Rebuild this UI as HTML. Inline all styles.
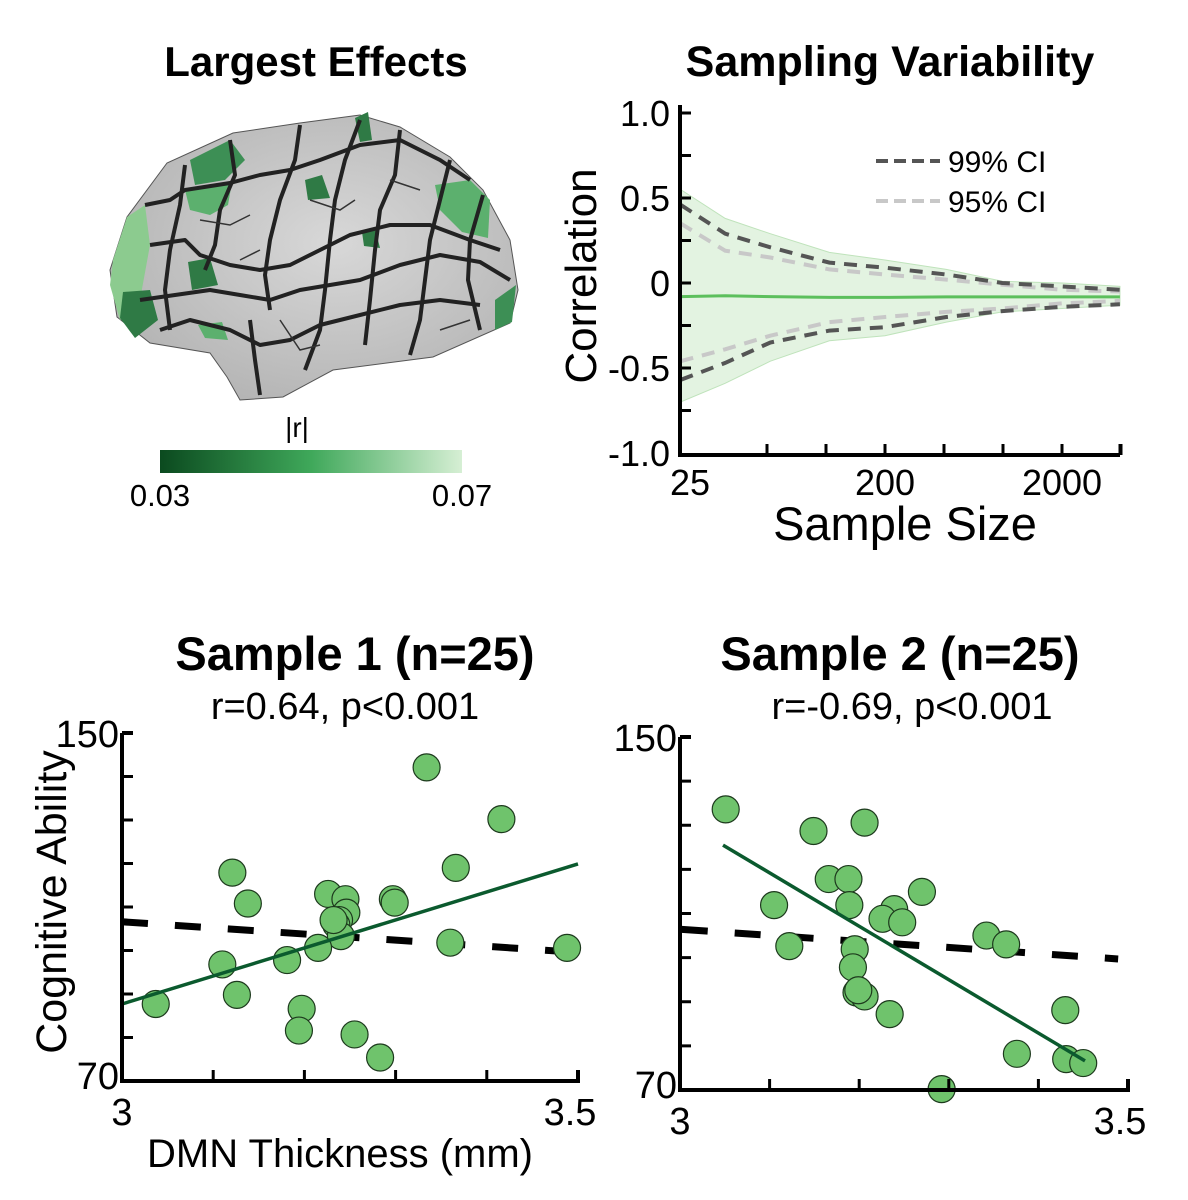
<!DOCTYPE html>
<html><head><meta charset="utf-8">
<style>
html,body{margin:0;padding:0;background:#fff;}
svg{display:block;font-family:"Liberation Sans",Arial,sans-serif;}
</style></head>
<body>
<svg id="fig" width="1188" height="1200" viewBox="0 0 1188 1200" xmlns="http://www.w3.org/2000/svg">
<defs>
<linearGradient id="cbar" x1="0" x2="1" y1="0" y2="0">
<stop offset="0" stop-color="#0b4a1f"/><stop offset="0.5" stop-color="#3fa85a"/><stop offset="1" stop-color="#d6efd4"/>
</linearGradient>
<radialGradient id="brainShade" cx="0.55" cy="0.45" r="0.6">
<stop offset="0" stop-color="#d8d8d8"/><stop offset="1" stop-color="#b4b4b4"/>
</radialGradient>
</defs>

<text x="316" y="76" font-size="42" font-weight="bold" text-anchor="middle">Largest Effects</text>
<g>
<path d="M110,270 L127,217 L167,163 L233,133 L300,123 L360,115 L400,127 L450,157 L483,190 L510,240 L518,290 L510,323 L433,357 L333,370 L283,397 L240,400 L227,377 L210,353 L150,343 L117,317 Z" fill="url(#brainShade)" stroke="#555" stroke-width="1"/>
<path d="M113,260 L127,217 L145,205 L150,245 L140,300 L120,320 L110,285 Z" fill="#8ccb8f"/>
<path d="M123,292 L150,290 L158,320 L135,338 L120,318 Z" fill="#2f7a45"/>
<path d="M190,160 L230,140 L245,160 L225,180 L195,185 Z" fill="#3d8f55"/>
<path d="M185,190 L232,182 L228,205 L210,215 L190,210 Z" fill="#5cb06e"/>
<path d="M305,180 L322,175 L330,198 L308,200 Z" fill="#2f7a45"/>
<path d="M435,185 L470,180 L490,200 L488,238 L462,232 L440,210 Z" fill="#5cb06e"/>
<path d="M188,262 L210,258 L218,285 L192,290 Z" fill="#2f7a45"/>
<path d="M362,232 L375,228 L380,248 L364,246 Z" fill="#2f7a45"/>
<path d="M355,118 L368,112 L372,140 L360,142 Z" fill="#2f7a45"/>
<path d="M198,325 L222,322 L228,340 L205,338 Z" fill="#5cb06e"/>
<path d="M495,300 L516,285 L512,322 L495,330 Z" fill="#3d8f55"/>
<g fill="none" stroke="#222" stroke-width="4" stroke-linejoin="round">
<path d="M145,205 L170,200 L185,190 L230,183 L260,175 L290,170 L320,160 L360,145 L400,140 L440,160 L470,180"/>
<path d="M150,245 L185,240 L200,255 L230,265 L260,270 L290,265 L320,250 L350,235 L390,225 L430,225 L470,240 L500,250"/>
<path d="M140,300 L175,295 L210,290 L240,295 L270,300 L300,290 L330,285 L360,280 L400,265 L440,255 L480,262 L510,280"/>
<path d="M160,330 L190,320 L230,330 L260,345 L290,340 L320,325 L360,315 L400,305 L440,300 L480,305"/>
<path d="M230,140 L235,175 L220,210 L215,245 L205,270"/>
<path d="M300,125 L295,160 L280,200 L270,240 L265,275 L270,310"/>
<path d="M360,120 L345,160 L335,200 L330,240 L325,290 L320,330 L305,370"/>
<path d="M400,130 L395,175 L380,210 L375,250 L370,300 L365,345"/>
<path d="M450,160 L440,200 L430,240 L425,280 L420,320 L410,355"/>
<path d="M483,195 L470,240 L468,280 L480,330"/>
<path d="M250,320 L255,360 L260,395"/>
<path d="M185,165 L180,205 L170,250 L165,290 L170,330"/>
</g>
<g fill="none" stroke="#333" stroke-width="1.5">
<path d="M200,220 L230,225 L250,215"/><path d="M310,200 L340,210 L355,200"/>
<path d="M390,180 L420,190"/><path d="M280,320 L300,350 L320,345"/>
<path d="M440,330 L470,320"/><path d="M240,260 L260,250"/>
</g>
</g>
<g>
<text x="297" y="437" font-size="28" text-anchor="middle">|r|</text>
<rect x="160" y="450" width="302" height="23" fill="url(#cbar)"/>
<text x="160" y="506" font-size="31" text-anchor="middle">0.03</text>
<text x="462" y="506" font-size="31" text-anchor="middle">0.07</text>
</g>

<text x="890" y="76" font-size="43" font-weight="bold" text-anchor="middle">Sampling Variability</text>
<g id="pB"></g>

<text x="355" y="670" font-size="47" font-weight="bold" text-anchor="middle">Sample 1 (n=25)</text>
<text x="345" y="719" font-size="38" text-anchor="middle">r=0.64, p&lt;0.001</text>
<g id="pC"></g>
<text transform="translate(66,902) rotate(-90)" font-size="43" text-anchor="middle">Cognitive Ability</text>
<text x="340" y="1167" font-size="40" text-anchor="middle">DMN Thickness (mm)</text>

<text x="900" y="670" font-size="47" font-weight="bold" text-anchor="middle">Sample 2 (n=25)</text>
<text x="912" y="719" font-size="38" text-anchor="middle">r=-0.69, p&lt;0.001</text>
<g id="pD"></g>
</svg>

<script>
var sampleSizes = [14, 25, 45, 97, 200, 444, 920, 2000, 4250];
var meanCorr   = [-0.08, -0.075, -0.08, -0.085, -0.085, -0.082, -0.082, -0.082, -0.082];
var bandUpper  = [0.55, 0.38, 0.29, 0.18, 0.135, 0.08, 0.01, 0.0, -0.02];
var bandLower  = [-0.70, -0.59, -0.46, -0.34, -0.31, -0.23, -0.17, -0.15, -0.13];
var ci99Upper  = [0.46, 0.29, 0.21, 0.12, 0.09, 0.05, 0.0, -0.02, -0.04];
var ci99Lower  = [-0.57, -0.47, -0.35, -0.28, -0.26, -0.20, -0.165, -0.14, -0.125];
var ci95Upper  = [0.35, 0.19, 0.15, 0.08, 0.05, 0.02, -0.01, -0.04, -0.05];
var ci95Lower  = [-0.46, -0.39, -0.31, -0.23, -0.20, -0.17, -0.15, -0.12, -0.105];
var yTickVals  = [1.0, 0.5, 0, -0.5, -1.0];
var yTickLabels= ["1.0", "0.5", "0", "-0.5", "-1.0"];
var xTickVals  = [25, 200, 2000];
var xTickLabels= ["25", "200", "2000"];

var s1x = [3.334,3.416,3.366,3.121,3.138,3.226,3.245,3.297,3.299,3.246,3.238,3.235,3.240,3.360,3.488,3.215,3.110,3.181,3.126,3.037,3.197,3.194,3.255,3.283,3.232];
var s1y = [142.1,130.2,119.0,117.9,110.8,113.0,111.8,111.8,111.0,108.7,107.0,105.9,103.3,101.8,100.6,100.6,96.8,97.8,89.8,87.7,86.6,81.6,80.7,75.4,107.0];
var s1FitX = [3.0, 3.5];
var s1FitY = [87.7, 119.9];
var s1RefX = [3.0, 3.49];
var s1RefY = [106.6, 99.7];

var s2x = [3.051,3.149,3.206,3.166,3.188,3.270,3.105,3.189,3.239,3.226,3.248,3.342,3.364,3.122,3.195,3.193,3.197,3.206,3.234,3.430,3.376,3.431,3.450,3.292,3.199];
var s2y = [133.6,128.7,130.6,117.8,117.8,114.9,111.9,111.9,111.0,108.8,108.0,105.0,103.0,102.6,101.9,97.8,92.1,91.2,87.2,88.1,78.2,77.0,76.1,70.2,92.6];
var s2FitX = [3.048, 3.452];
var s2FitY = [125.5, 76.6];
var s2RefX = [3.002, 3.489];
var s2RefY = [106.4, 99.7];

var scX = [3, 3.5], scY = [70, 150];
var scTickX = [3, 3.5], scTickXLabels = ["3", "3.5"];
var scTickY = [150, 70], scTickYLabels = ["150", "70"];

var NS = "http://www.w3.org/2000/svg";
function mk(parent, tag, attrs) {
  var e = document.createElementNS(NS, tag);
  for (var k in attrs) e.setAttribute(k, attrs[k]);
  parent.appendChild(e);
  return e;
}

(function(){
  var g = document.getElementById('pB');
  var X0 = 680, X1 = 1120, Yt = 105, Yb = 455;
  function x(n){ return 885 + (Math.log10(n) - Math.log10(200)) * 177; }
  function y(v){ return 283 - v * 170; }
  function pts(ys){ return sampleSizes.map(function(n,i){ return x(n).toFixed(1)+','+y(ys[i]).toFixed(1); }).join(' '); }
  var bandPts = sampleSizes.map(function(n,i){ return x(n)+','+y(bandUpper[i]); })
    .concat(sampleSizes.slice().reverse().map(function(n,j){ var i = sampleSizes.length-1-j; return x(n)+','+y(bandLower[i]); })).join(' ');
  var band = mk(g,'polygon',{points:bandPts, fill:'#e3f3e1', stroke:'#bfe3bb', 'stroke-width':1});
  
  
  var l;
  l = mk(g,'polyline',{points:pts(ci95Upper), fill:'none', stroke:'#c8c8c8', 'stroke-width':4, 'stroke-dasharray':'13 9'});
  
  
  l = mk(g,'polyline',{points:pts(ci95Lower), fill:'none', stroke:'#c8c8c8', 'stroke-width':4, 'stroke-dasharray':'13 9'});
  
  
  l = mk(g,'polyline',{points:pts(ci99Upper), fill:'none', stroke:'#555', 'stroke-width':4, 'stroke-dasharray':'13 9'});
  
  
  l = mk(g,'polyline',{points:pts(ci99Lower), fill:'none', stroke:'#555', 'stroke-width':4, 'stroke-dasharray':'13 9'});
  
  
  l = mk(g,'polyline',{points:pts(meanCorr), fill:'none', stroke:'#5cbf5c', 'stroke-width':3});
  
  
  var ax = mk(g,'path',{d:'M'+X0+','+Yt+' L'+X0+','+Yb+' L'+X1+','+Yb, fill:'none', stroke:'#000', 'stroke-width':4});
  
  
  for (var v=-0.75; v<=1.0; v+=0.25) {
    mk(g,'line',{x1:X0, x2:X0+11, y1:y(v), y2:y(v), stroke:'#000', 'stroke-width':3});
  }
  for (var k=-2; k<=4; k++) {
    var tx = x(200*Math.pow(10,k/3));
    mk(g,'line',{x1:tx, x2:tx, y1:Yb, y2:Yb-11, stroke:'#000', 'stroke-width':3});
  }
  mk(g,'line',{x1:X1, x2:X1, y1:Yb, y2:Yb-11, stroke:'#000', 'stroke-width':3});
  yTickVals.forEach(function(v,i){
    var t = mk(g,'text',{x:X0-10, y:y(v)+13, 'font-size':36, 'text-anchor':'end'});
    t.textContent = yTickLabels[i];
    
    
  });
  xTickVals.forEach(function(v,i){
    var px = i===0 ? X0+10 : x(v);
    var t = mk(g,'text',{x:px, y:Yb+40, 'font-size':36, 'text-anchor':'middle'});
    t.textContent = xTickLabels[i];
    
    
  });
  var yt = mk(g,'text',{transform:'translate(596,276) rotate(-90)', 'font-size':44, 'text-anchor':'middle'});
  yt.textContent = 'Correlation';
  
  
  var xt = mk(g,'text',{x:905, y:540, 'font-size':47, 'text-anchor':'middle'});
  xt.textContent = 'Sample Size';
  
  
  var lg = mk(g,'g',{});
  
  
  mk(lg,'line',{x1:876, x2:940, y1:161, y2:161, stroke:'#555', 'stroke-width':4, 'stroke-dasharray':'12 6'});
  var t1 = mk(lg,'text',{x:948, y:172, 'font-size':30}); t1.textContent='99% CI';
  
  
  mk(lg,'line',{x1:876, x2:940, y1:201, y2:201, stroke:'#c8c8c8', 'stroke-width':4, 'stroke-dasharray':'12 6'});
  var t2 = mk(lg,'text',{x:948, y:212, 'font-size':30}); t2.textContent='95% CI';
  
  
})();

function scatter(gid, L, R, T, B, xs, ys, fitX, fitY, refX, refY) {
  var g = document.getElementById(gid);
  function x(v){ return L + (v - scX[0]) / (scX[1]-scX[0]) * (R-L); }
  function y(v){ return B - (v - scY[0]) / (scY[1]-scY[0]) * (B-T); }
  var ref = mk(g,'line',{x1:x(refX[0]), y1:y(refY[0]), x2:x(refX[1]), y2:y(refY[1]), stroke:'#000', 'stroke-width':7, 'stroke-dasharray':'26 27'});
  
  
  xs.forEach(function(v,i){
    var c = mk(g,'circle',{cx:x(v), cy:y(ys[i]), r:13.5, fill:'#6fc36c', stroke:'#1d3a1d', 'stroke-width':1.2});
    
    
  });
  var fit = mk(g,'line',{x1:x(fitX[0]), y1:y(fitY[0]), x2:x(fitX[1]), y2:y(fitY[1]), stroke:'#0b5a2e', 'stroke-width':3.5});
  
  
  var ax = mk(g,'path',{d:'M'+L+','+T+' L'+L+','+B+' L'+R+','+B+' L'+R+','+(B-11), fill:'none', stroke:'#000', 'stroke-width':4});
  
  
  mk(g,'line',{x1:L, x2:L+11, y1:T, y2:T, stroke:'#000', 'stroke-width':4});
  for (var v=80; v<150; v+=10) mk(g,'line',{x1:L, x2:L+11, y1:y(v), y2:y(v), stroke:'#000', 'stroke-width':3});
  for (var u=3.1; u<3.45; u+=0.1) mk(g,'line',{x1:x(u), x2:x(u), y1:B, y2:B-11, stroke:'#000', 'stroke-width':3});
  scTickY.forEach(function(v,i){
    var t = mk(g,'text',{x:L-3, y:y(v)+(i===0?14:8), 'font-size':38, 'text-anchor':'end'});
    t.textContent = scTickYLabels[i];
    
    
  });
  scTickX.forEach(function(v,i){
    var t = mk(g,'text',{x:x(v)+(i===0?0:-8), y:B+44, 'font-size':38, 'text-anchor':'middle'});
    t.textContent = scTickXLabels[i];
    
    
  });
}
scatter('pC', 122, 578, 733, 1081, s1x, s1y, s1FitX, s1FitY, s1RefX, s1RefY);
scatter('pD', 680, 1128, 737, 1090, s2x, s2y, s2FitX, s2FitY, s2RefX, s2RefY);
</script>
</body></html>
